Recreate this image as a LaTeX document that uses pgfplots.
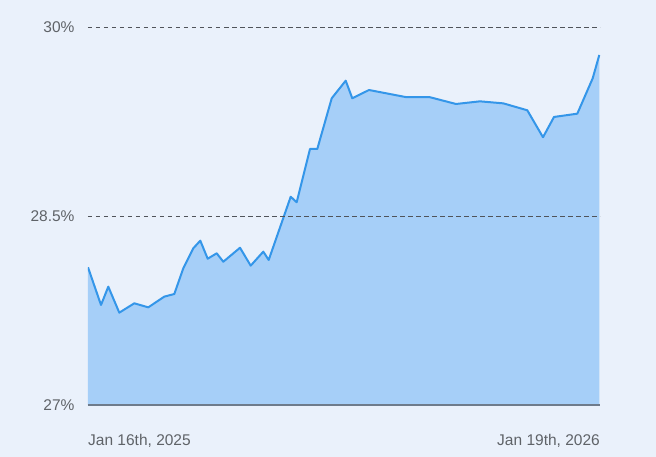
\documentclass[border=0pt]{standalone}
\usepackage{pgfplots}
\usepackage{pgfplotstable}
\pgfplotsset{compat=1.18}
\usepackage{fontspec}
\setmainfont{Liberation Sans}
\definecolor{bgc}{RGB}{234,241,251}
\definecolor{areac}{RGB}{166,207,248}
\definecolor{linec}{RGB}{52,150,233}
\definecolor{txtc}{RGB}{95,99,104}
\definecolor{gridc}{RGB}{80,84,90}
\definecolor{basec}{RGB}{110,123,139}
\newcommand\labA{Jan 16th, 2025}
\newcommand\labB{Jan 19th, 2026}
\pgfplotstableread{
x y
0 28.093
13 27.794
20.3 27.939
31.3 27.733
46.3 27.807
60.3 27.775
76.3 27.860
86.3 27.881
95.3 28.085
105.3 28.244
112.3 28.304
119.7 28.161
128.7 28.204
135.3 28.137
152 28.248
162.7 28.106
175.3 28.217
180.7 28.151
202.7 28.653
208.7 28.609
222 29.032
229.3 29.032
243.7 29.434
257.7 29.574
264.3 29.434
281 29.500
317.7 29.444
341.3 29.444
368 29.389
392 29.410
415.3 29.394
439.3 29.339
455 29.125
466 29.286
489.3 29.312
504.7 29.593
511.3 29.778
}\datatable
\begin{document}
\begin{tikzpicture}
\fill[bgc] (-88bp,-52bp) rectangle (568bp,405bp);
\begin{axis}[
  at={(0,0)}, anchor=south west,
  scale only axis, width=512bp, height=378bp,
  xmin=0, xmax=512, ymin=27, ymax=30,
  axis on top,
  axis x line*=bottom, axis y line*=left,
  x axis line style={draw=basec, line width=1.8bp, -},
  y axis line style={draw=none},
  ytick={28.5,30}, yticklabels={28.5\%,30\%},
  extra y ticks={27}, extra y tick labels={27\%},
  extra y tick style={grid=none},
  ymajorgrids,
  grid style={gridc, line width=0.8bp, dash pattern=on 4.5bp off 3.5bp},
  major tick length=0pt,
  yticklabel style={font=\fontsize{15.5bp}{18bp}\selectfont, text=txtc, anchor=east, xshift=-10bp},
  xtick={0}, xticklabels={\labA},
  xticklabel style={font=\fontsize{15.5bp}{18bp}\selectfont, text=txtc, anchor=base west, yshift=-40bp, inner xsep=0pt},
  extra x ticks={512}, extra x tick labels={\labB},
  extra x tick style={xticklabel style={anchor=base east}},
  tick style={draw=none},
]
\addplot[fill=areac, draw=none] table[x=x,y=y] {\datatable} \closedcycle;
\addplot[linec, line width=2bp, line join=round] table[x=x,y=y] {\datatable};
\end{axis}
\pgfresetboundingbox
\useasboundingbox (-88bp,-52bp) rectangle (568bp,405bp);
\end{tikzpicture}
\end{document}
